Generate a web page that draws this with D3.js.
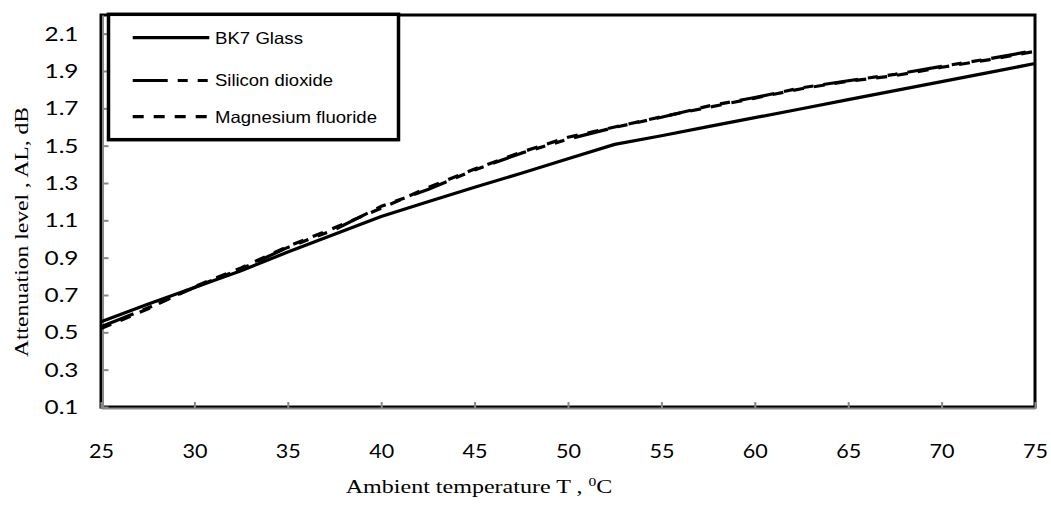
<!DOCTYPE html>
<html>
<head>
<meta charset="utf-8">
<script src="https://cdn.jsdelivr.net/npm/d3@7"></script>
<style>
  html, body { margin: 0; padding: 0; background: #fff; }
  svg { display: block; }
</style>
</head>
<body>
<svg id="chart" width="1051" height="510"></svg>
<script>
// Ambient temperature, °C
const temps = [25, 27.5, 30, 32.5, 35, 37.5, 40, 42.5, 45, 47.5, 50,
               52.5, 55, 57.5, 60, 62.5, 65, 67.5, 70, 72.5, 75];

// Attenuation level, dB
const bk7Glass = [0.557, 0.65, 0.74, 0.83, 0.93, 1.025, 1.12, 1.2, 1.277, 1.352, 1.43,
                  1.507, 1.553, 1.602, 1.65, 1.698, 1.747, 1.795, 1.843, 1.891, 1.94];
const siliconDioxide = [0.53, 0.63, 0.74, 0.84, 0.955, 1.05, 1.175, 1.265, 1.37, 1.46, 1.535,
                        1.598, 1.652, 1.712, 1.758, 1.81, 1.848, 1.882, 1.925, 1.965, 2.01];
const magnesiumFluoride = [0.52, 0.625, 0.745, 0.845, 0.96, 1.06, 1.165, 1.275, 1.375, 1.465, 1.545,
                           1.6, 1.655, 1.705, 1.755, 1.805, 1.845, 1.875, 1.92, 1.96, 2.005];

const seriesNames = ["BK7 Glass", "Silicon dioxide", "Magnesium fluoride"];
const seriesDash = [null, "35,10,10,10,10,10", "11,10"];

const xTicks = [25, 30, 35, 40, 45, 50, 55, 60, 65, 70, 75];
const yTicks = [0.1, 0.3, 0.5, 0.7, 0.9, 1.1, 1.3, 1.5, 1.7, 1.9, 2.1];

const svg = d3.select("#chart");

const plot = { left: 101, right: 1035, top: 15, bottom: 407 };

const x = d3.scaleLinear().domain([25, 75]).range([plot.left, plot.right]);
const y = d3.scaleLinear().domain([0.1, 2.2]).range([plot.bottom, plot.top]);

// plot area frame
svg.append("rect")
  .attr("x", plot.left).attr("y", plot.top)
  .attr("width", plot.right - plot.left).attr("height", plot.bottom - plot.top)
  .attr("fill", "#fff").attr("stroke", "#000").attr("stroke-width", 3);

const tickFont = "Lato, 'Open Sans', sans-serif";

// y axis
const yAxis = svg.append("g")
  .attr("transform", `translate(${plot.left + 1.5},0)`)
  .call(d3.axisLeft(y).tickValues(yTicks).tickFormat(d3.format(".1f"))
        .tickSizeInner(-6).tickSizeOuter(0).tickPadding(24));
yAxis.select(".domain").attr("stroke", "#888").attr("stroke-width", 2);
yAxis.selectAll(".tick line").attr("stroke", "#888").attr("stroke-width", 2);
yAxis.selectAll(".tick text")
  .attr("font-family", tickFont).attr("font-size", 20).attr("fill", "#000")
  .attr("textLength", 34).attr("lengthAdjust", "spacingAndGlyphs");

// x axis
const xAxis = svg.append("g")
  .attr("transform", `translate(0,${plot.bottom + 1})`)
  .call(d3.axisBottom(x).tickValues(xTicks).tickFormat(d3.format("d"))
        .tickSizeInner(-6).tickSizeOuter(0).tickPadding(36));
xAxis.select(".domain").attr("stroke", "#888").attr("stroke-width", 2);
xAxis.selectAll(".tick line").attr("stroke", "#888").attr("stroke-width", 2);
xAxis.selectAll(".tick text")
  .attr("font-family", tickFont).attr("font-size", 20).attr("fill", "#000")
  .attr("textLength", 25).attr("lengthAdjust", "spacingAndGlyphs");

// series lines
const allSeries = [bk7Glass, siliconDioxide, magnesiumFluoride];
const line = d3.line().x((d, i) => x(temps[i])).y(d => y(d));

allSeries.forEach((vals, k) => {
  svg.append("path")
    .datum(vals)
    .attr("d", line)
    .attr("fill", "none")
    .attr("stroke", "#000")
    .attr("stroke-width", 3.2)
    .attr("stroke-dasharray", seriesDash[k])
    .attr("stroke-linejoin", "round");
});

// legend
const legend = svg.append("g");
legend.append("rect")
  .attr("x", 108.5).attr("y", 14.3).attr("width", 290).attr("height", 125.4)
  .attr("fill", "#fff").attr("stroke", "#000").attr("stroke-width", 3.5);

const legendRows = [37.7, 80.5, 116.7];
const legendWidths = [88, 118, 162];
seriesNames.forEach((name, k) => {
  legend.append("line")
    .attr("x1", 132.7).attr("x2", 209.3)
    .attr("y1", legendRows[k]).attr("y2", legendRows[k])
    .attr("stroke", "#000").attr("stroke-width", 3.2)
    .attr("stroke-dasharray", seriesDash[k]);
  legend.append("text")
    .attr("x", 215).attr("y", legendRows[k] + 5.8)
    .attr("font-family", "'Liberation Sans', Arial, sans-serif")
    .attr("font-size", 16.5)
    .attr("fill", "#000")
    .attr("textLength", legendWidths[k]).attr("lengthAdjust", "spacingAndGlyphs")
    .text(name);
});

// axis titles
svg.append("text")
  .attr("transform", "translate(28,232) rotate(-90)")
  .attr("text-anchor", "middle")
  .attr("font-family", "'Liberation Serif', 'Times New Roman', serif")
  .attr("font-size", 19)
  .attr("fill", "#000")
  .attr("textLength", 250).attr("lengthAdjust", "spacingAndGlyphs")
  .text("Attenuation level , AL, dB");

const xTitle = svg.append("text")
  .attr("transform", "translate(479,493) scale(1.3,1)")
  .attr("text-anchor", "middle")
  .attr("font-family", "'Liberation Serif', 'Times New Roman', serif")
  .attr("font-size", 18.5)
  .attr("fill", "#000");
xTitle.append("tspan").text("Ambient temperature T , ");
xTitle.append("tspan").attr("dy", -7).attr("font-size", 12).text("0");
xTitle.append("tspan").attr("dy", 7).text("C");
</script>
</body>
</html>
